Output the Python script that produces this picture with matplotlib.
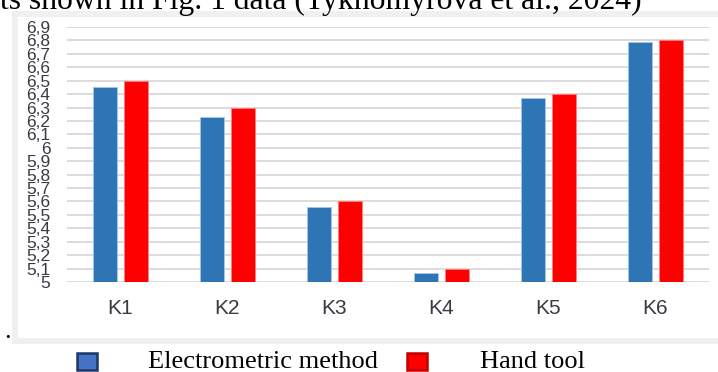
import numpy as np
import matplotlib.pyplot as plt
from matplotlib.patches import Rectangle

# sample groups and the two measurement series
categories = ['K1', 'K2', 'K3', 'K4', 'K5', 'K6']
electrometric = [6.45, 6.23, 5.56, 5.07, 6.37, 6.79]
hand_tool = [6.50, 6.30, 5.60, 5.10, 6.40, 6.80]
y_ticks = [round(5 + 0.1 * i, 1) for i in range(20)]

W, H = 718, 372
fig = plt.figure(figsize=(W / 100, H / 100), dpi=100)

def fx(px):
    return px / W

def fy(py):
    return 1 - py / H

# light grey frame around the chart area
fig.patches.append(Rectangle((fx(15), fy(341)), fx(730) - fx(15), fy(14) - fy(341),
                             transform=fig.transFigure, facecolor='white',
                             edgecolor='#f0f0f0', lw=4.3, zorder=0))

ax = fig.add_axes([fx(67), fy(282), fx(709) - fx(67), fy(27) - fy(282)])
ax.set_zorder(2)
ax.set_facecolor('none')

x = np.arange(len(categories))
w = 0.22
off = 0.143
ax.bar(x - off, electrometric, w, color='#2e75b6', edgecolor='#a9c6e4', lw=0.6, zorder=3)
ax.bar(x + off, hand_tool, w, color='#ff0000', edgecolor='#ff8080', lw=0.6, zorder=3)

ax.set_xlim(-0.5, len(categories) - 0.5)
ax.set_ylim(5, 6.9)
ax.set_yticks(y_ticks)
ax.set_yticklabels([f'{v:g}'.replace('.', ',') for v in y_ticks],
                   fontsize=12.5, color='#3a3a44', family='Liberation Sans')
ax.set_xticks(x)
ax.set_xticklabels(categories, fontsize=15, color='#3a3a44', family='Liberation Sans')
ax.tick_params(axis='y', length=0, pad=12)
ax.tick_params(axis='x', length=0, pad=12)
ax.grid(axis='y', color='#dcdcdc', lw=1.4, zorder=0)
for s in ax.spines.values():
    s.set_visible(False)
ax.axhline(5, color='#d0d0d0', lw=1.4, zorder=1)

# caption line cut at the top
fig.text(0, fy(8.5), 'ts shown in Fig. 1 data (Tykhomyrova et al., 2024)',
         fontsize=22.8, family='Liberation Serif', va='baseline', ha='left')
fig.text(fx(4), fy(338), '.', fontsize=19, family='Liberation Serif', va='baseline')

# legend row under the chart
for x0, face, edge, label, tx in [(76, '#4472c4', '#1f3864', 'Electrometric method', 148),
                                  (406, '#ff0000', '#c00000', 'Hand tool', 480)]:
    fig.patches.append(Rectangle((fx(x0 + 1), fy(370)), fx(20), fy(353) - fy(370),
                                 transform=fig.transFigure, facecolor=face,
                                 edgecolor=edge, lw=1.8))
    fig.text(fx(tx), fy(368), label, fontsize=19, family='Liberation Serif',
             va='baseline', ha='left')

fig.savefig('out.png', dpi=100)
